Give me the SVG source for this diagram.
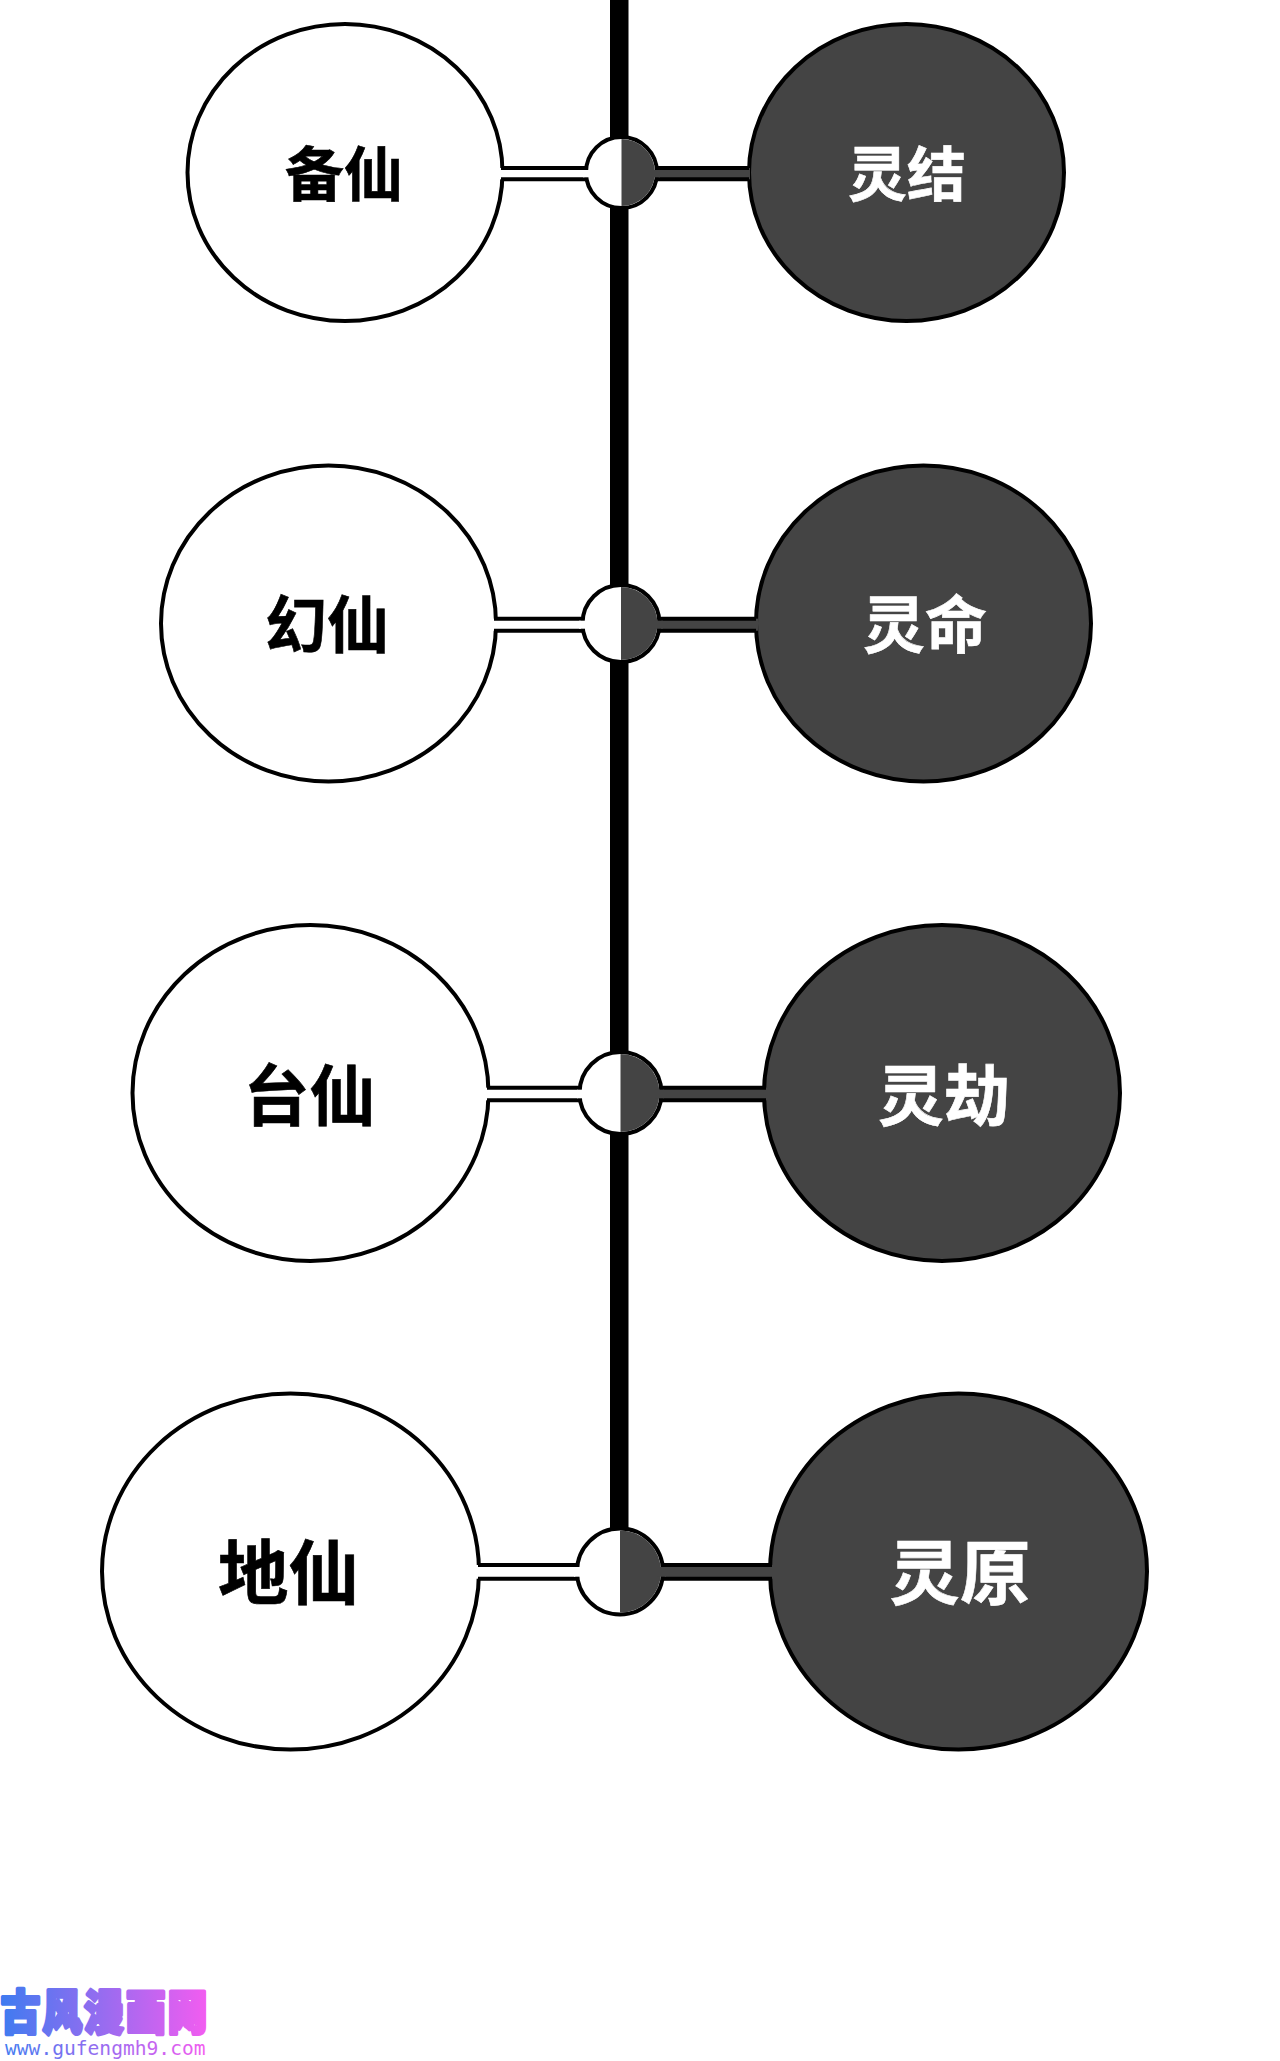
<svg xmlns="http://www.w3.org/2000/svg" width="1280" height="2061" viewBox="0 0 1280 2061">
<defs>
<linearGradient id="wm" gradientUnits="userSpaceOnUse" x1="0" y1="0" x2="208" y2="0"><stop offset="0" stop-color="#3f7bf0"/><stop offset="1" stop-color="#f45cf0"/></linearGradient>
</defs>
<style>
.n{stroke:#000;stroke-width:4}
.w{fill:#fff}
.d{fill:#444}
.l{stroke:#000;stroke-width:4;fill:none}
.t{font-family:"Noto Sans CJK SC","Liberation Sans",sans-serif;font-weight:700;text-anchor:middle;stroke-width:0.6}
.tw{fill:#fff;stroke:#fff}
.tb{fill:#000;stroke:#000}
</style>
<rect width="1280" height="2061" fill="#fff"/>
<g id="node-beixian"><ellipse class="n w" cx="345" cy="172.500" rx="157.500" ry="148.500"/><text class="t tb" x="344" y="196" font-size="59">备仙</text></g>
<g id="node-lingjie"><ellipse class="n d" cx="906.500" cy="172.500" rx="157.500" ry="148.500"/><text class="t tw" x="907" y="196" font-size="59">灵结</text></g>
<g id="node-huanxian"><ellipse class="n w" cx="328.500" cy="623.500" rx="167.500" ry="158"/><text class="t tb" x="327" y="648" font-size="62">幻仙</text></g>
<g id="node-lingming"><ellipse class="n d" cx="923.500" cy="623.500" rx="167.500" ry="158"/><text class="t tw" x="925" y="648" font-size="62">灵命</text></g>
<g id="node-taixian"><ellipse class="n w" cx="310.500" cy="1093" rx="178" ry="168"/><text class="t tb" x="309.500" y="1120" font-size="66">台仙</text></g>
<g id="node-lingjie2"><ellipse class="n d" cx="942" cy="1093" rx="178" ry="168"/><text class="t tw" x="944" y="1120" font-size="66">灵劫</text></g>
<g id="node-dixian"><ellipse class="n w" cx="290.500" cy="1571.500" rx="188.500" ry="178"/><text class="t tb" x="288.500" y="1599" font-size="70.500">地仙</text></g>
<g id="node-lingyuan"><ellipse class="n d" cx="958.500" cy="1571.500" rx="188.500" ry="178"/><text class="t tw" x="960" y="1599" font-size="70.500">灵原</text></g>
<g id="connectors">
<rect x="610" y="0" width="18.500" height="1540" fill="#000"/>
<rect class="w" x="498" y="168" width="92" height="11.300"/><path class="l" d="M501 168H586M501 179.300H586"/>
<rect class="d" x="652" y="168" width="98" height="11.300"/><path class="l" d="M656 168H749M656 179.300H749"/>
<rect class="w" x="491" y="618.700" width="94" height="12"/><path class="l" d="M494 618.700H582M494 630.700H582"/>
<rect class="d" x="656" y="618.700" width="102" height="12"/><path class="l" d="M660 618.700H756M660 630.700H756"/>
<rect class="w" x="484" y="1087.700" width="98" height="12.600"/><path class="l" d="M487 1087.700H580M487 1100.300H580"/>
<rect class="d" x="658" y="1087.700" width="110" height="12.600"/><path class="l" d="M662 1087.700H766M662 1100.300H766"/>
<rect class="w" x="474" y="1565" width="105" height="13.700"/><path class="l" d="M478 1565H576M478 1578.700H576"/>
<rect class="d" x="660" y="1565" width="113" height="13.700"/><path class="l" d="M663 1565H772M663 1578.700H772"/>
</g>
<g id="junction-1"><circle class="n w" cx="621.500" cy="172.500" r="35.500"/><path class="d" d="M621.500 139V206A33.500 33.500 0 0 0 621.500 139Z"/><rect class="w" x="583" y="170" width="8" height="7.300"/><rect class="d" x="652" y="170" width="8" height="7.300"/></g>
<g id="junction-2"><circle class="n w" cx="621" cy="623.500" r="38.500"/><path class="d" d="M621 587V660A36.500 36.500 0 0 0 621 587Z"/><rect class="w" x="579" y="620.700" width="9" height="8"/><rect class="d" x="654" y="620.700" width="9" height="8"/></g>
<g id="junction-3"><circle class="n w" cx="620.500" cy="1093" r="41"/><path class="d" d="M620.500 1054V1132A39 39 0 0 0 620.500 1054Z"/><rect class="w" x="577" y="1089.700" width="9" height="8.600"/><rect class="d" x="655" y="1089.700" width="9" height="8.600"/></g>
<g id="junction-4"><circle class="n w" cx="620" cy="1571.500" r="43"/><path class="d" d="M620 1530.500V1612.500A41 41 0 0 0 620 1530.500Z"/><rect class="w" x="574" y="1567" width="9" height="9.700"/><rect class="d" x="657" y="1567" width="9" height="9.700"/></g>
<g id="watermark">
<text transform="translate(1 2029) scale(1 1.2)" x="0" y="0" font-family="Noto Sans CJK SC,sans-serif" font-weight="900" font-size="39" textLength="206" lengthAdjust="spacing" fill="url(#wm)" stroke="url(#wm)" stroke-width="3.500" stroke-linejoin="round">古风漫画网</text>
<text x="5" y="2055" font-family="DejaVu Sans Mono,monospace" font-size="19.600" fill="url(#wm)">www.gufengmh9.com</text>
</g>
</svg>
